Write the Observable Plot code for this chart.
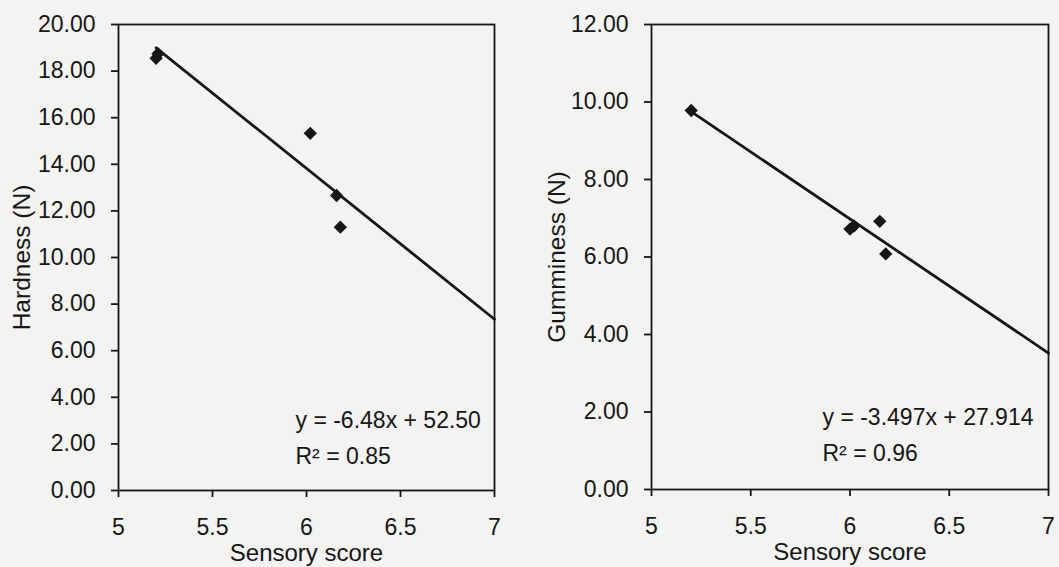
<!DOCTYPE html>
<html>
<head>
<meta charset="utf-8">
<script src="https://cdn.jsdelivr.net/npm/d3@7"></script>
<script src="https://cdn.jsdelivr.net/npm/@observablehq/plot@0.6"></script>
<style>
  html, body { margin: 0; padding: 0; background: #f3f3f1; }
  #wrap { display: flex; width: 1059px; height: 567px; overflow: hidden; }
  #wrap svg { display: block; }
</style>
</head>
<body>
<div id="wrap"></div>
<script>
// ---- data ----
const xTicks = [5, 5.5, 6, 6.5, 7];
const hardTicks = [0, 2, 4, 6, 8, 10, 12, 14, 16, 18, 20];
const gumTicks = [0, 2, 4, 6, 8, 10, 12];

// Left panel: Hardness vs sensory score
const sensoryHard = [5.20, 5.21, 6.02, 6.16, 6.18];
const hardness    = [18.55, 18.75, 15.33, 12.66, 11.30];
const hardLineX   = [5.2, 7];
const hardLineY   = [19.0, 7.35];
const hardEq = "y = -6.48x + 52.50";
const hardR2 = "R² = 0.85";

// Right panel: Gumminess vs sensory score
const sensoryGum = [5.20, 6.00, 6.02, 6.15, 6.18];
const gumminess  = [9.78, 6.72, 6.80, 6.92, 6.08];
const gumLineX   = [5.2, 7];
const gumLineY   = [9.75, 3.52];
const gumEq = "y = -3.497x + 27.914";
const gumR2 = "R² = 0.96";

const xLabel = "Sensory score";

function panel(o) {
  const pts = o.xs.map((x, i) => ({x, y: o.ys[i]}));
  const fit = o.lx.map((x, i) => ({x, y: o.ly[i]}));
  const ink = "#161616";
  return Plot.plot({
    width: o.width,
    height: 567,
    marginLeft: o.marginLeft,
    marginRight: o.marginRight,
    marginTop: 24,
    marginBottom: o.marginBottom,
    x: {domain: [5, 7]},
    y: {domain: o.yDomain},
    style: {fontFamily: "'Liberation Sans', Arial, sans-serif", color: ink, background: "transparent", overflow: "visible"},
    marks: [
      Plot.frame({stroke: ink, strokeWidth: 1.8}),
      Plot.axisX({ticks: xTicks, tickSize: 7, tickPadding: 21, tickFormat: d => String(d), label: null, fontSize: 23, strokeWidth: 1.8, color: ink}),
      Plot.axisY({ticks: o.yTicks, tickSize: 7, tickPadding: 16, tickFormat: d => d.toFixed(2), label: null, fontSize: 23, strokeWidth: 1.8, color: ink}),
      Plot.line(fit, {x: "x", y: "y", stroke: ink, strokeWidth: 2.8}),
      Plot.dot(pts, {x: "x", y: "y", symbol: "diamond2", r: 6, fill: ink, stroke: "none"}),
      Plot.text([o.eq], {text: d => d, frameAnchor: "bottom-left", dx: o.eqDx, dy: o.eqDy, textAnchor: "start", lineAnchor: "middle", fontSize: 23, fill: ink}),
      Plot.text([o.r2], {text: d => d, frameAnchor: "bottom-left", dx: o.eqDx, dy: o.eqDy + 36, textAnchor: "start", lineAnchor: "middle", fontSize: 23, fill: ink}),
      Plot.text([xLabel], {text: d => d, frameAnchor: "bottom", dy: 63, textAnchor: "middle", lineAnchor: "middle", fontSize: 24, fill: ink}),
      Plot.text([o.yLabel], {text: d => d, frameAnchor: "left", dx: o.yLabelDx, rotate: -90, textAnchor: "middle", lineAnchor: "middle", fontSize: 24.5, fill: ink})
    ]
  });
}

const wrap = document.getElementById("wrap");
wrap.append(panel({
  width: 530, marginLeft: 118, marginRight: 36, marginBottom: 77,
  xs: sensoryHard, ys: hardness, lx: hardLineX, ly: hardLineY,
  yDomain: [0, 20], yTicks: hardTicks,
  eq: hardEq, r2: hardR2, eqDx: 177, eqDy: -70,
  yLabel: "Hardness (N)", yLabelDx: -96
}));
wrap.append(panel({
  width: 529, marginLeft: 121, marginRight: 11, marginBottom: 78,
  xs: sensoryGum, ys: gumminess, lx: gumLineX, ly: gumLineY,
  yDomain: [0, 12], yTicks: gumTicks,
  eq: gumEq, r2: gumR2, eqDx: 171, eqDy: -72,
  yLabel: "Gumminess (N)", yLabelDx: -94
}));
</script>
</body>
</html>
